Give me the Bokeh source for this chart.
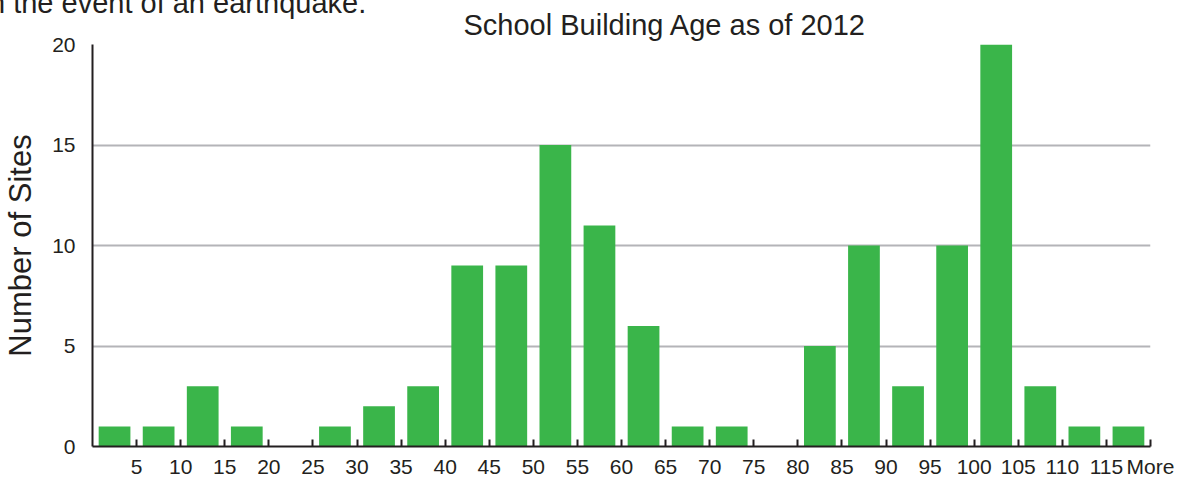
from bokeh.plotting import figure
from bokeh.models import Range1d, FixedTicker, Title, ColumnDataSource
from bokeh.embed import file_html
from bokeh.resources import INLINE

# Data
categories = ["5", "10", "15", "20", "25", "30", "35", "40", "45", "50", "55", "60",
              "65", "70", "75", "80", "85", "90", "95", "100", "105", "110", "115", "More"]
sites = [1, 1, 3, 1, 0, 1, 2, 3, 9, 9, 15, 11, 6, 1, 1, 0, 5, 10, 3, 10, 20, 3, 1, 1]
y_ticks = [0, 5, 10, 15, 20]

title_text = "School Building Age as of  2012"
y_label_text = "Number of Sites"
top_text = "in the event of an earthquake."

DARK = "#231f20"
GREEN = "#3ab54a"
GRID = "#b4b4b8"
FONT = "Liberation Sans"

n = len(categories)
centers = [i + 0.5 for i in range(n)]
src = ColumnDataSource(dict(x=centers, top=sites, cat=categories))

p = figure(width=1185, height=486, output_backend="svg", toolbar_location=None,
           x_range=Range1d(0, n), y_range=Range1d(0, 20),
           min_border_left=92, min_border_right=35, min_border_top=0, min_border_bottom=40,
           margin=(0, 0, -10, 0))
p.outline_line_color = None
p.background_fill_color = "white"
p.border_fill_color = "white"

# outermost line: the cropped sentence above the chart
p.title.text = top_text
p.title.text_font = FONT
p.title.text_font_size = "29px"
p.title.text_font_style = "normal"
p.title.text_color = DARK
p.title.align = "left"
p.title.offset = -110
p.title.standoff = -32

# chart title, next to the plot area
p.add_layout(Title(text=title_text, text_font=FONT, text_font_size="29px",
                   text_font_style="normal", text_color=DARK, align="left",
                   offset=371, standoff=8), "above")

p.vbar(x="x", top="top", width=0.72, source=src, fill_color=GREEN, line_color=None)

# X axis: ticks at category boundaries, labels under each boundary
p.xaxis.ticker = FixedTicker(ticks=[i + 1 for i in range(n)])
p.xaxis.major_label_overrides = {i + 1: c for i, c in enumerate(categories)}
p.xaxis.minor_tick_line_color = None
p.xaxis.major_tick_in = 7
p.xaxis.major_tick_out = 0
p.xaxis.major_tick_line_width = 2
p.xaxis.major_tick_line_color = DARK
p.xaxis.axis_line_width = 2
p.xaxis.axis_line_color = DARK
p.xaxis.major_label_standoff = 8
p.xaxis.major_label_text_font = FONT
p.xaxis.major_label_text_font_size = "21px"
p.xaxis.major_label_text_color = DARK

# Y axis
p.yaxis.ticker = FixedTicker(ticks=y_ticks)
p.yaxis.minor_tick_line_color = None
p.yaxis.major_tick_in = 0
p.yaxis.major_tick_out = 0
p.yaxis.axis_line_width = 2
p.yaxis.axis_line_color = DARK
p.yaxis.major_label_standoff = 17
p.yaxis.major_label_text_font = FONT
p.yaxis.major_label_text_font_size = "21px"
p.yaxis.major_label_text_color = DARK
p.yaxis.axis_label = y_label_text
p.yaxis.axis_label_text_font = FONT
p.yaxis.axis_label_text_font_size = "31px"
p.yaxis.axis_label_text_font_style = "normal"
p.yaxis.axis_label_text_color = DARK
p.yaxis.axis_label_standoff = 11

p.xgrid.grid_line_color = None
p.ygrid.ticker = FixedTicker(ticks=y_ticks)
p.ygrid.grid_line_color = GRID
p.ygrid.grid_line_width = 2

open("out.html", "w").write(file_html(p, INLINE))
